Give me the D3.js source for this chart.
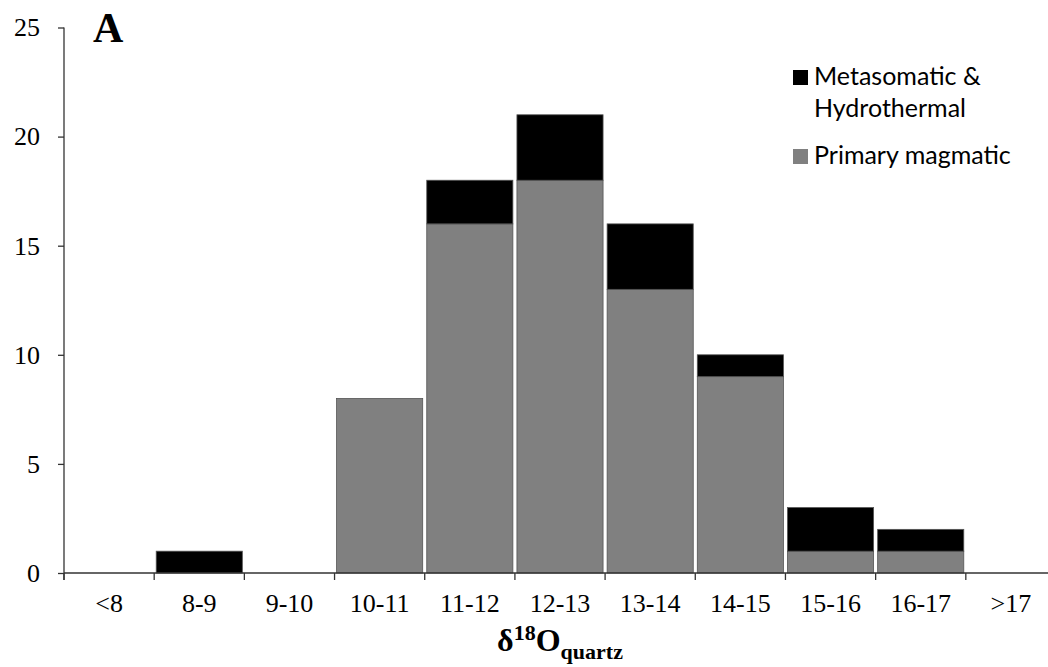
<!DOCTYPE html>
<html>
<head>
<meta charset="utf-8">
<script src="https://cdn.jsdelivr.net/npm/d3@7"></script>
<style>
  body { margin: 0; background: #fff; }
  svg { display: block; }
  .tick text { font-family: 'Liberation Serif', 'Times New Roman', serif; font-size: 26px; fill: #000; }
  .legend text { font-family: Lato, 'Open Sans', sans-serif; font-size: 25px; fill: #000; }
</style>
</head>
<body>
<svg id="chart"></svg>
<script>
const WIDTH = 1048;
const HEIGHT = 667;

const categories = ['<8', '8-9', '9-10', '10-11', '11-12', '12-13', '13-14', '14-15', '15-16', '16-17', '>17'];
const primary = [0, 0, 0, 8, 16, 18, 13, 9, 1, 1, 0];
const metasomatic = [0, 1, 0, 0, 2, 3, 3, 1, 2, 1, 0];
const y_ticks = [0, 5, 10, 15, 20, 25];
const series_names = ['Metasomatic &\nHydrothermal', 'Primary magmatic'];

const AXIS_COLOR = '#333';
const GREY = '#808080';

let svg = d3.select('#chart')
    .attr('width', WIDTH)
    .attr('height', HEIGHT);

let x = d3.scaleBand()
    .domain(categories)
    .range([64, 1056])
    .paddingInner(0.045)
    .paddingOuter(0.0225);

let y = d3.scaleLinear()
    .domain([0, 25])
    .range([573, 27.5]);

// stacked bars: primary at the bottom, metasomatic on top
let rows = categories.map((c, i) => ({cat: c, primary: primary[i], metasomatic: metasomatic[i]}));
let stack = d3.stack().keys(['primary', 'metasomatic'])(rows);
let colors = {primary: GREY, metasomatic: '#000'};

svg.append('g')
    .selectAll('g')
    .data(stack)
    .join('g')
    .attr('fill', d => colors[d.key])
    .selectAll('rect')
    .data(d => d.filter(p => p[1] - p[0] > 0))
    .join('rect')
    .attr('x', d => x(d.data.cat))
    .attr('width', x.bandwidth())
    .attr('y', d => y(d[1]))
    .attr('height', d => y(d[0]) - y(d[1]))
    .attr('stroke', '#555')
    .attr('stroke-width', 0.8);

// y axis
let y_axis = svg.append('g')
    .attr('transform', 'translate(64,0)')
    .call(d3.axisLeft(y).tickValues(y_ticks).tickSize(6).tickSizeOuter(0).tickPadding(18));
y_axis.select('.domain').remove();
y_axis.selectAll('.tick line').attr('stroke', AXIS_COLOR).attr('stroke-width', 1.3);
y_axis.append('line')
    .attr('x1', 0).attr('x2', 0)
    .attr('y1', y(25)).attr('y2', y(0) + 7)
    .attr('stroke', AXIS_COLOR).attr('stroke-width', 1.3);

// x axis: labels at band centres, tick marks at band edges
let x_axis = svg.append('g')
    .attr('transform', `translate(0,${y(0)})`)
    .call(d3.axisBottom(x).tickSize(0).tickPadding(21));
x_axis.select('.domain').remove();
x_axis.append('line')
    .attr('x1', 64).attr('x2', WIDTH)
    .attr('y1', 0).attr('y2', 0)
    .attr('stroke', AXIS_COLOR).attr('stroke-width', 1.3);
x_axis.selectAll('line.edge')
    .data(d3.range(categories.length + 1))
    .join('line')
    .attr('class', 'edge')
    .attr('x1', i => x.range()[0] + i * x.step())
    .attr('x2', i => x.range()[0] + i * x.step())
    .attr('y1', 0).attr('y2', 7)
    .attr('stroke', AXIS_COLOR).attr('stroke-width', 1.3);

// panel letter
svg.append('text')
    .attr('x', 93)
    .attr('y', 42)
    .attr('font-family', "'Liberation Serif', 'Times New Roman', serif")
    .attr('font-weight', 'bold')
    .attr('font-size', 42)
    .text('A');

// x axis title
let title = svg.append('text')
    .attr('x', (x.range()[0] + x.range()[1]) / 2)
    .attr('y', 651)
    .attr('text-anchor', 'middle')
    .attr('font-family', "'Liberation Serif', 'Times New Roman', serif")
    .attr('font-weight', 'bold')
    .attr('font-size', 32);
title.append('tspan').text('δ');
title.append('tspan').attr('font-size', 22).attr('dy', -11).text('18');
title.append('tspan').attr('dy', 11).text('O');
title.append('tspan').attr('font-size', 22).attr('dy', 8).text('quartz');

// legend
let legend = svg.append('g').attr('class', 'legend');
let legend_items = [
    {lines: series_names[0].split('\n'), color: '#000', y: 85},
    {lines: [series_names[1]], color: GREY, y: 164}
];
legend_items.forEach(item => {
    legend.append('rect')
        .attr('x', 793)
        .attr('y', item.y - 15)
        .attr('width', 15)
        .attr('height', 15)
        .attr('fill', item.color);
    let t = legend.append('text')
        .attr('x', 814)
        .attr('y', item.y);
    item.lines.forEach((line, i) => {
        t.append('tspan')
            .attr('x', 814)
            .attr('dy', i === 0 ? 0 : 32)
            .text(line);
    });
});
</script>
</body>
</html>
